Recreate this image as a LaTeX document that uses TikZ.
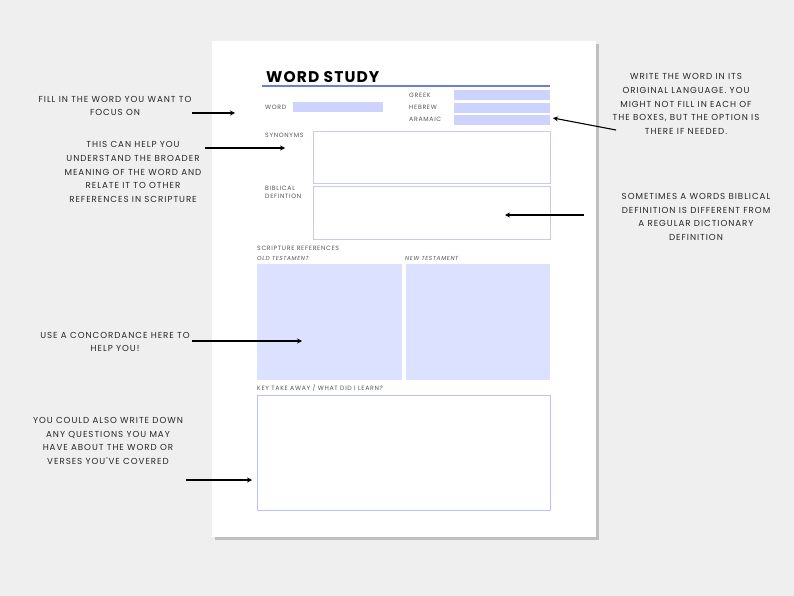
\documentclass[tikz,border=0pt]{standalone}
\usepackage{fontspec}
\setmainfont{Poppins}
\newfontfamily\spaced[LetterSpace=11]{Poppins}
\newfontfamily\spacedb[LetterSpace=7]{Poppins}
\usetikzlibrary{arrows.meta}
\definecolor{bg}{HTML}{EFEFEF}
\definecolor{ul}{HTML}{6B7FD6}
\definecolor{fbox}{HTML}{CCD3FF}
\definecolor{lbox}{HTML}{DBE1FF}
\definecolor{edge}{HTML}{C9C8F0}
\definecolor{lab}{HTML}{555555}
\tikzset{
  note/.style={align=center,font=\spaced\fontsize{8.7}{13.6}\selectfont,text=black!85},
  lbl/.style={anchor=west,font=\spaced\fontsize{6.2}{8}\selectfont,text=lab,align=left,inner sep=0},
  ptr/.style={-{Stealth[length=5pt,width=5pt]},line width=1.1pt},
  area/.style={draw=edge,line width=0.8pt,fill=white},
  fld/.style={fill=fbox,draw=none}
}
\begin{document}
\begin{tikzpicture}[x=1pt,y=-1pt]
\fill[bg] (0,0) rectangle (794,596);
\useasboundingbox (0,0) rectangle (794,596);
\fill[black!25] (215,44) rectangle (599,540);
\fill[white] (212,41) rectangle (596,537);
\node[anchor=west,font=\spacedb\bfseries\fontsize{15.5}{16}\selectfont,inner sep=0] (title) at (266,77) {WORD STUDY};
\draw[ul,line width=1.2pt] (262,86) -- (550,86);
\node[lbl] (lw) at (265,107) {WORD};
\node[fld,minimum width=90,minimum height=10,anchor=north west,inner sep=0] (word) at (293,102) {};
\node[lbl] at (409,95) {GREEK};
\node[lbl] at (409,107) {HEBREW};
\node[lbl] at (409,119) {ARAMAIC};
\node[fld,minimum width=96,minimum height=10,anchor=north west,inner sep=0] (greek) at (454,90) {};
\node[fld,minimum width=96,minimum height=10,anchor=north west,inner sep=0] (hebrew) at (454,103) {};
\node[fld,minimum width=96,minimum height=10,anchor=north west,inner sep=0] (aramaic) at (454,115) {};
\node[lbl] at (265,135) {SYNONYMS};
\node[lbl,anchor=north west] at (265,186) {BIBLICAL\\DEFINTION};
\node[area,minimum width=237,minimum height=52,anchor=north west,inner sep=0] (syn) at (313,131) {};
\node[area,minimum width=237,minimum height=53,anchor=north west,inner sep=0] (bib) at (313,186) {};
\node[lbl] at (257,248) {SCRIPTURE REFERENCES};
\node[lbl,font=\spaced\itshape\fontsize{5.8}{8}\selectfont] at (257,258) {OLD TESTAMENT};
\node[lbl,font=\spaced\itshape\fontsize{5.8}{8}\selectfont] at (405,258) {NEW TESTAMENT};
\node[fill=lbox,minimum width=145,minimum height=116,anchor=north west,inner sep=0] (ot) at (257,264) {};
\node[fill=lbox,minimum width=144,minimum height=116,anchor=north west,inner sep=0] (nt) at (406,264) {};
\node[lbl] at (257,388) {KEY TAKE AWAY / WHAT DID I LEARN?};
\node[area,draw=fbox!90!blue,minimum width=293,minimum height=115,anchor=north west,inner sep=0] (key) at (257,395) {};
% notes
\node[note] (n1) at (115,106) {FILL IN THE WORD YOU WANT TO\\FOCUS ON};
\coordinate (a1s) at (192,113); \coordinate (a1e) at (235,113);
\draw[ptr] (a1s) -- (a1e);
\node[note] (n2) at (133,172) {THIS CAN HELP YOU\\UNDERSTAND THE BROADER\\MEANING OF THE WORD AND\\RELATE IT TO OTHER\\REFERENCES IN SCRIPTURE};
\coordinate (a2s) at (205,148); \coordinate (a2e) at (285,148);
\draw[ptr] (a2s) -- (a2e);
\node[note] (n3) at (115,342) {USE A CONCORDANCE HERE TO\\HELP YOU!};
\coordinate (a3s) at (192,341); \coordinate (a3e) at (302,341);
\draw[ptr] (a3s) -- (a3e);
\node[note] (n4) at (108,441) {YOU COULD ALSO WRITE DOWN\\ANY QUESTIONS YOU MAY\\HAVE ABOUT THE WORD OR\\VERSES YOU'VE COVERED};
\coordinate (a4s) at (186,480); \coordinate (a4e) at (252,480);
\draw[ptr] (a4s) -- (a4e);
\node[note] (n5) at (686,104) {WRITE THE WORD IN ITS\\ORIGINAL LANGUAGE. YOU\\MIGHT NOT FILL IN EACH OF\\THE BOXES, BUT THE OPTION IS\\THERE IF NEEDED.};
\coordinate (a5s) at (616,130); \coordinate (a5e) at (553,118);
\draw[ptr] (a5s) -- (a5e);
\node[note] (n6) at (696,217) {SOMETIMES A WORDS BIBLICAL\\DEFINITION IS DIFFERENT FROM\\A REGULAR DICTIONARY\\DEFINITION};
\coordinate (a6s) at (584,215); \coordinate (a6e) at (505,215);
\draw[ptr] (a6s) -- (a6e);
\end{tikzpicture}
\end{document}
